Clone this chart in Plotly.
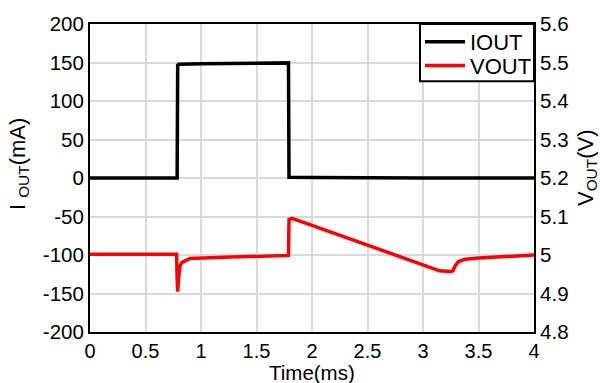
import plotly.graph_objects as go

# Load-step response: output current (left axis) and output voltage (right axis)
time_i = [0.0, 0.5, 0.785, 0.79, 0.8, 1.0, 1.3, 1.6, 1.788, 1.793, 1.82, 2.0, 3.0, 4.0]
iout_ma = [0.0, 0.0, 0.0, 146.5, 147.8, 148.5, 149.0, 149.5, 149.5, 1.0, 0.8, 0.5, 0.0, 0.0]

time_v = [0.0, 0.5, 0.78, 0.785, 0.79, 0.795, 0.80, 0.81, 0.83, 0.86, 0.9, 1.2, 1.5, 1.788,
          1.793, 1.82, 2.0, 2.5, 3.0, 3.08, 3.15, 3.25, 3.27, 3.29, 3.32, 3.38, 3.5, 4.0]
vout_v = [5.002, 5.002, 5.002, 4.94, 4.905, 4.93, 4.958, 4.972, 4.981, 4.986, 4.991, 4.994, 4.997, 4.999,
          5.092, 5.095, 5.077, 5.026, 4.974, 4.965, 4.959, 4.957, 4.959, 4.972, 4.983, 4.989, 4.992, 5.0]

x_ticks = [0, 0.5, 1, 1.5, 2, 2.5, 3, 3.5, 4]
x_tick_text = ["0", "0.5", "1", "1.5", "2", "2.5", "3", "3.5", "4"]
i_ticks = [-200, -150, -100, -50, 0, 50, 100, 150, 200]
i_tick_text = ["-200", "-150", "-100", "-50", "0", "50", "100", "150", "200"]
v_ticks = [4.8, 4.9, 5.0, 5.1, 5.2, 5.3, 5.4, 5.5, 5.6]
v_tick_text = ["4.8", "4.9", "5", "5.1", "5.2", "5.3", "5.4", "5.5", "5.6"]

FONT = "Arial, Liberation Sans, sans-serif"
GRID = "#d9d9d9"
TICK = 20.5

fig = go.Figure()
fig.add_trace(go.Scatter(x=time_i, y=iout_ma, name="IOUT", mode="lines",
                         line=dict(color="black", width=3.5), yaxis="y", legend="legend"))
fig.add_trace(go.Scatter(x=time_v, y=vout_v, name="VOUT", mode="lines",
                         line=dict(color="#ff0000", width=3.5), yaxis="y2", legend="legend2"))

legend_common = dict(xanchor="left", yanchor="top", bgcolor="rgba(0,0,0,0)",
                     borderwidth=0, font=dict(size=22), itemwidth=40)

fig.update_layout(
    width=600, height=383,
    margin=dict(l=90, r=66, t=20, b=51),
    paper_bgcolor="white", plot_bgcolor="white",
    font=dict(family=FONT, size=20, color="black"),
    showlegend=True,
    legend=dict(x=0.7432, y=1.0099, **legend_common),
    legend2=dict(x=0.7432, y=0.933, **legend_common),
    xaxis=dict(range=[0, 4], tickvals=x_ticks, ticktext=x_tick_text,
               showgrid=True, gridcolor=GRID, gridwidth=1.5,
               showline=True, linecolor="black", linewidth=2, mirror=True,
               zeroline=False, ticks="", tickfont=dict(size=20)),
    yaxis=dict(range=[-200, 200], tickvals=i_ticks, ticktext=i_tick_text,
               showgrid=True, gridcolor=GRID, gridwidth=1.5,
               showline=True, linecolor="black", linewidth=2,
               zeroline=False, ticks="", tickfont=dict(size=TICK)),
    yaxis2=dict(range=[4.8, 5.6], tickvals=v_ticks, ticktext=v_tick_text,
                overlaying="y", side="right", showgrid=False,
                showline=True, linecolor="black", linewidth=2,
                zeroline=False, ticks="", tickfont=dict(size=TICK)),
    shapes=[
        # legend frame
        dict(type="rect", xref="paper", yref="paper", x0=0.7432, x1=1, y0=0.8141, y1=1,
             line=dict(color="black", width=2), fillcolor="white", layer="above"),
    ],
    annotations=[
        dict(text="Time(ms)", xref="paper", yref="paper", x=0.5, y=-0.133,
             xanchor="center", yanchor="middle", showarrow=False, font=dict(size=20.5)),
        dict(text="I <sub>OUT</sub>(mA)", xref="paper", yref="paper", x=-0.16, y=0.545,
             xanchor="center", yanchor="middle", textangle=-90, showarrow=False,
             font=dict(size=22)),
        dict(text="V<sub>OUT</sub>(V)", xref="paper", yref="paper", x=1.119, y=0.535,
             xanchor="center", yanchor="middle", textangle=-90, showarrow=False,
             font=dict(size=22)),
    ],
)

fig.write_html("out.html")
